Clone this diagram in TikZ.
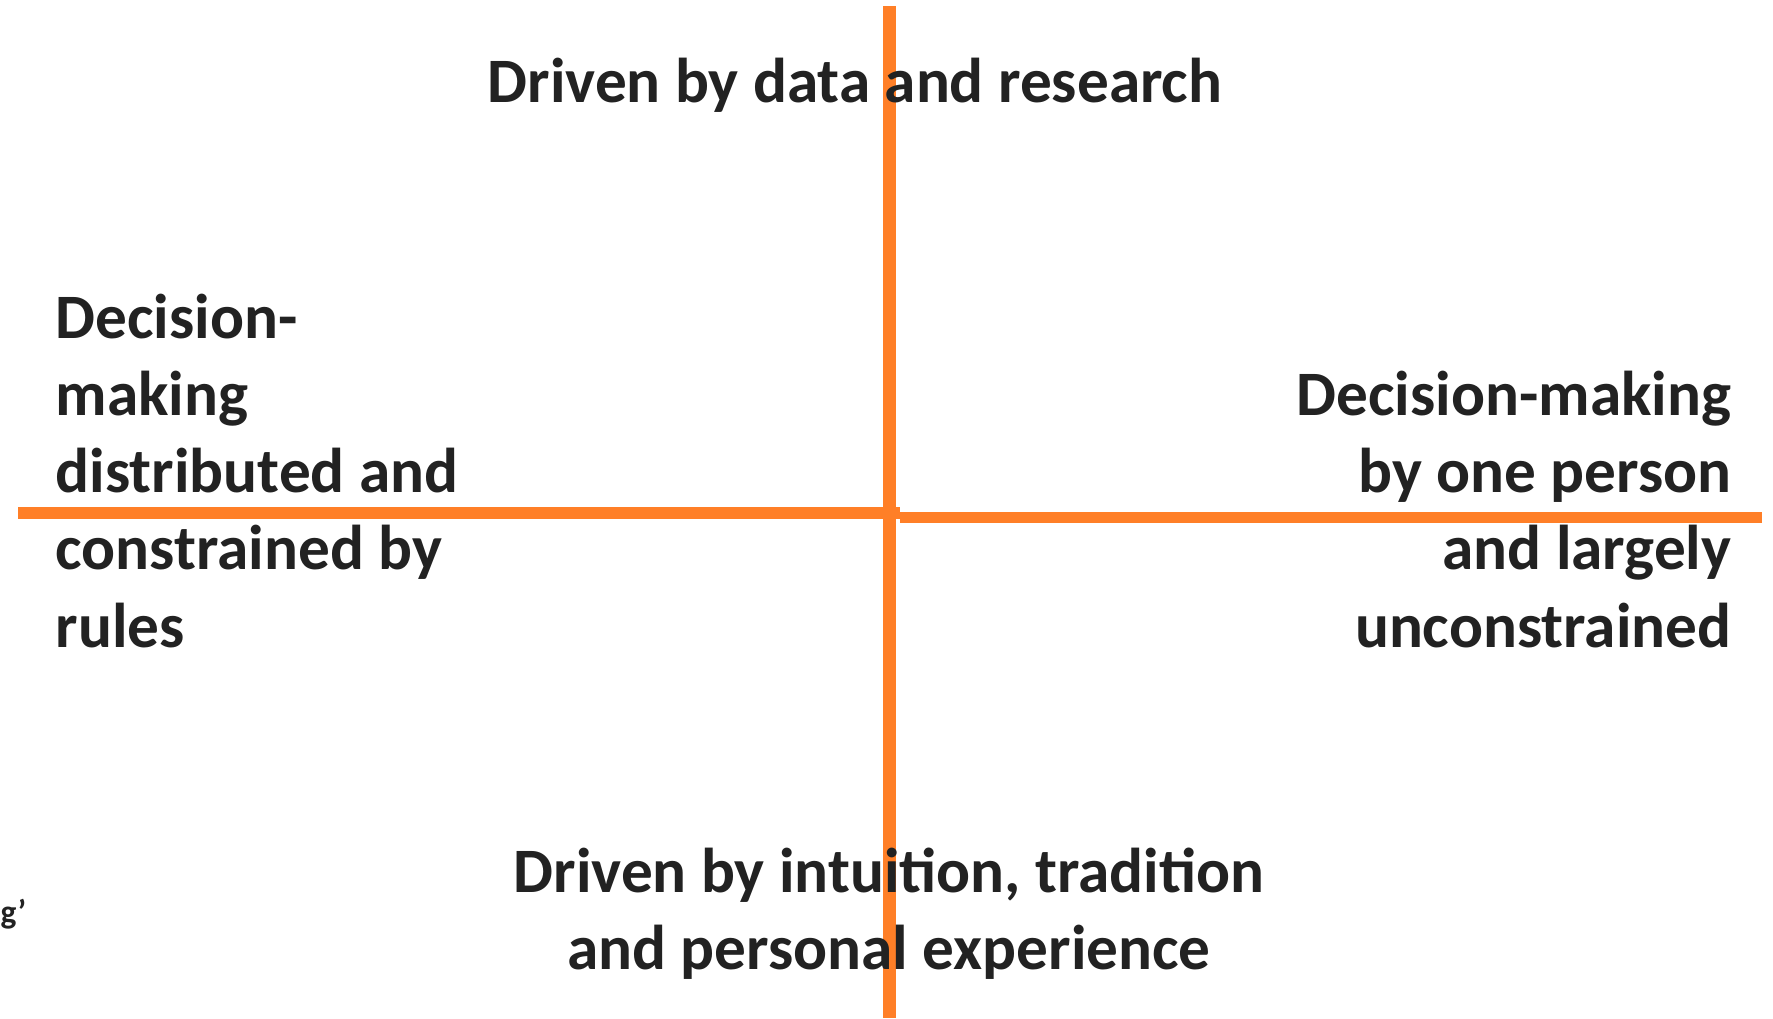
\documentclass[tikz,border=0pt]{standalone}
\usepackage{fontspec}
\setmainfont{Carlito}
\usetikzlibrary{positioning, calc}
\definecolor{axisorange}{RGB}{255,127,39}
\definecolor{labelgrey}{RGB}{34,34,34}
\tikzset{axis/.style={draw=axisorange, line width=0.13cm}}
\tikzset{pole/.style={inner sep=0, text=labelgrey, font=\fontsize{18}{21.9}\selectfont\bfseries}}

\begin{document}
\begin{tikzpicture}[x=0.01cm, y=-0.01cm]
  \useasboundingbox (0,0) rectangle (1773,1018);
  \coordinate (top) at (889.5,6);
  \coordinate (bottom) at (889.5,1018);
  \coordinate (west) at (18,513);
  \coordinate (mid) at (900,513);
  \coordinate (midr) at (900,517);
  \coordinate (east) at (1762,517);
  \draw[axis] (top) -- (bottom);
  \draw[axis, line width=0.12cm] (west) -- (mid);
  \draw[axis, line width=0.11cm] (midr) -- (east);

  \node[pole, anchor=base] (data) at (855,102) {Driven by data and research};
  \node[pole, anchor=base, align=center] (intuition) at (889,969) {Driven by intuition, tradition\\and personal experience};
  \node[pole, anchor=base west, align=left] (distributed) at (55,647) {Decision-\\making\\distributed and\\constrained by\\rules};
  \node[pole, anchor=base east, align=right] (oneperson) at (1732,647) {Decision-making\\by one person\\and largely\\unconstrained};
  \node[pole, anchor=base west, font=\fontsize{9.5}{11}\selectfont\bfseries] (cut) at (0,923) {g’};
\end{tikzpicture}
\end{document}
